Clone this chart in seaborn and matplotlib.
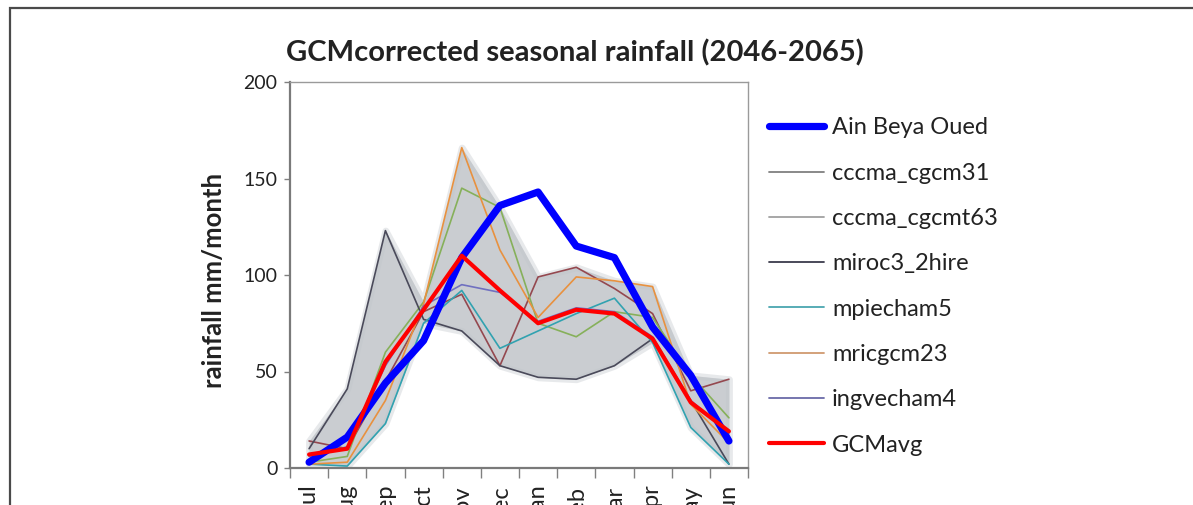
import numpy as np
import pandas as pd
import matplotlib
matplotlib.use("Agg")
import matplotlib.pyplot as plt
from matplotlib.lines import Line2D
from matplotlib.patches import Rectangle
import seaborn as sns

# ---------------- data ----------------
months = ["Jul", "Aug", "Sep", "Oct", "Nov", "Dec", "Jan", "Feb", "Mar", "Apr", "May", "Jun"]
ain_beya_oued = [3, 16, 44, 66, 109, 136, 143, 115, 109, 73, 48, 14]
cccma_cgcm31 = [14, 10, 45, 81, 90, 53, 99, 104, 93, 80, 40, 46]
cccma_cgcmt63 = [3, 6, 60, 86, 145, 135, 75, 68, 81, 78, 48, 26]
miroc3_2hire = [10, 41, 123, 77, 71, 53, 47, 46, 53, 67, 35, 2]
mpiecham5 = [2, 1, 23, 75, 92, 62, 71, 80, 88, 65, 21, 2]
mricgcm23 = [2, 3, 35, 85, 166, 113, 78, 99, 97, 94, 33, 13]
ingvecham4 = [6, 11, 53, 84, 95, 91, 76, 83, 81, 68, 35, 18]
gcm_avg = [7, 10, 55, 82, 110, 92, 75, 82, 80, 67, 34, 19]

model_names = ["cccma_cgcm31", "cccma_cgcmt63", "miroc3_2hire", "mpiecham5", "mricgcm23", "ingvecham4"]
model_values = [cccma_cgcm31, cccma_cgcmt63, miroc3_2hire, mpiecham5, mricgcm23, ingvecham4]
line_colors = ["#94484f", "#86b05a", "#4a4a5a", "#31a2b0", "#e8913f", "#7070c0"]
legend_colors = ["#808080", "#a0a0a0", "#3c3c4c", "#4aa6b0", "#d09a70", "#6a6aa8"]

rows = []
for name, vals in zip(model_names, model_values):
    for i, (m, v) in enumerate(zip(months, vals)):
        rows.append({"series": name, "month": m, "pos": i, "value": v})
df_models = pd.DataFrame(rows)
df_obs = pd.DataFrame({"month": months, "pos": np.arange(len(months)), "value": ain_beya_oued})
df_avg = pd.DataFrame({"month": months, "pos": np.arange(len(months)), "value": gcm_avg})

# ---------------- style ----------------
sns.set_style("white")
plt.rcParams["font.family"] = ["Lato", "DejaVu Sans"]

W, H = 1193, 505
fig = plt.figure(figsize=(W / 100, H / 100), dpi=100)
ax = fig.add_axes([290 / W, (H - 468) / H, 458 / W, 386 / H])

# envelope band (soft edge + core)
env = df_models.groupby("pos")["value"].agg(["min", "max"]).reset_index()
ax.fill_between(env["pos"], env["min"], env["max"], color="#c5c9ce", alpha=0.4,
                linewidth=5, edgecolor="#c5c9ce", zorder=1)
ax.fill_between(env["pos"], env["min"], env["max"], color="#bfc3c8", alpha=0.72,
                linewidth=0, zorder=1)

# model lines
for name, col in zip(model_names, line_colors):
    sns.lineplot(data=df_models[df_models["series"] == name], x="pos", y="value",
                 color=col, linewidth=1.2, ax=ax, legend=False, zorder=3)

sns.lineplot(data=df_obs, x="pos", y="value", color="#0000ff", linewidth=5.2,
             ax=ax, legend=False, zorder=4, solid_capstyle="round")
sns.lineplot(data=df_avg, x="pos", y="value", color="#ff0000", linewidth=3.0,
             ax=ax, legend=False, zorder=5)

ax.set_xlim(-0.5, len(months) - 0.5)
ax.set_ylim(0, 200)
ax.set_xlabel("")
ax.set_ylabel("")

ax.set_yticks([0, 50, 100, 150, 200])
ax.tick_params(axis="y", labelsize=14, length=4, width=1, color="#808080",
               direction="out", left=True, pad=5, labelcolor="#222222")
ax.set_xticks(np.arange(len(months)))
ax.set_xticklabels(months, rotation=90, va="top", fontsize=17, color="#222222")
ax.tick_params(axis="x", which="major", length=0, pad=12)
ax.set_xticks(np.arange(len(months) + 1) - 0.5, minor=True)
ax.tick_params(axis="x", which="minor", length=7, width=1, color="#808080",
               direction="out", bottom=True)

for s in ax.spines.values():
    s.set_color("#9a9a9a")
    s.set_linewidth(1.0)
ax.spines["left"].set_color("#7a7a7a")
ax.spines["left"].set_linewidth(1.6)
ax.spines["bottom"].set_color("#7a7a7a")
ax.spines["bottom"].set_linewidth(1.6)

# title
fig.text(575 / W, 1 - 53 / H, "GCMcorrected seasonal rainfall (2046-2065)",
         ha="center", va="center", fontsize=21, fontweight="bold", color="#222222")
# y label
fig.text(214 / W, (H - 280) / H, "rainfall mm/month", rotation=90,
         ha="center", va="center", fontsize=18.5, fontweight="bold", color="#222222")

# legend
handles = [Line2D([], [], color="#0000ff", linewidth=5.2, solid_capstyle="round")]
handles += [Line2D([], [], color=c, linewidth=1.3) for c in legend_colors]
handles += [Line2D([], [], color="#ff0000", linewidth=3.0)]
labels = ["Ain Beya Oued"] + model_names + ["GCMavg"]
fig.legend(handles, labels, loc="upper left", bbox_to_anchor=(760 / W, 1 - 108 / H),
           frameon=False, fontsize=17, labelspacing=1.03, handlelength=2.3,
           handletextpad=0.35, borderaxespad=0, labelcolor="#222222")

# outer chart frame
fig.patches.append(Rectangle((10 / W, -0.1), 1.2, 1.1 - 8 / H,
                             transform=fig.transFigure, fill=False,
                             edgecolor="#4a4a4a", linewidth=1.6, clip_on=False))

fig.savefig("out.png", dpi=100)
